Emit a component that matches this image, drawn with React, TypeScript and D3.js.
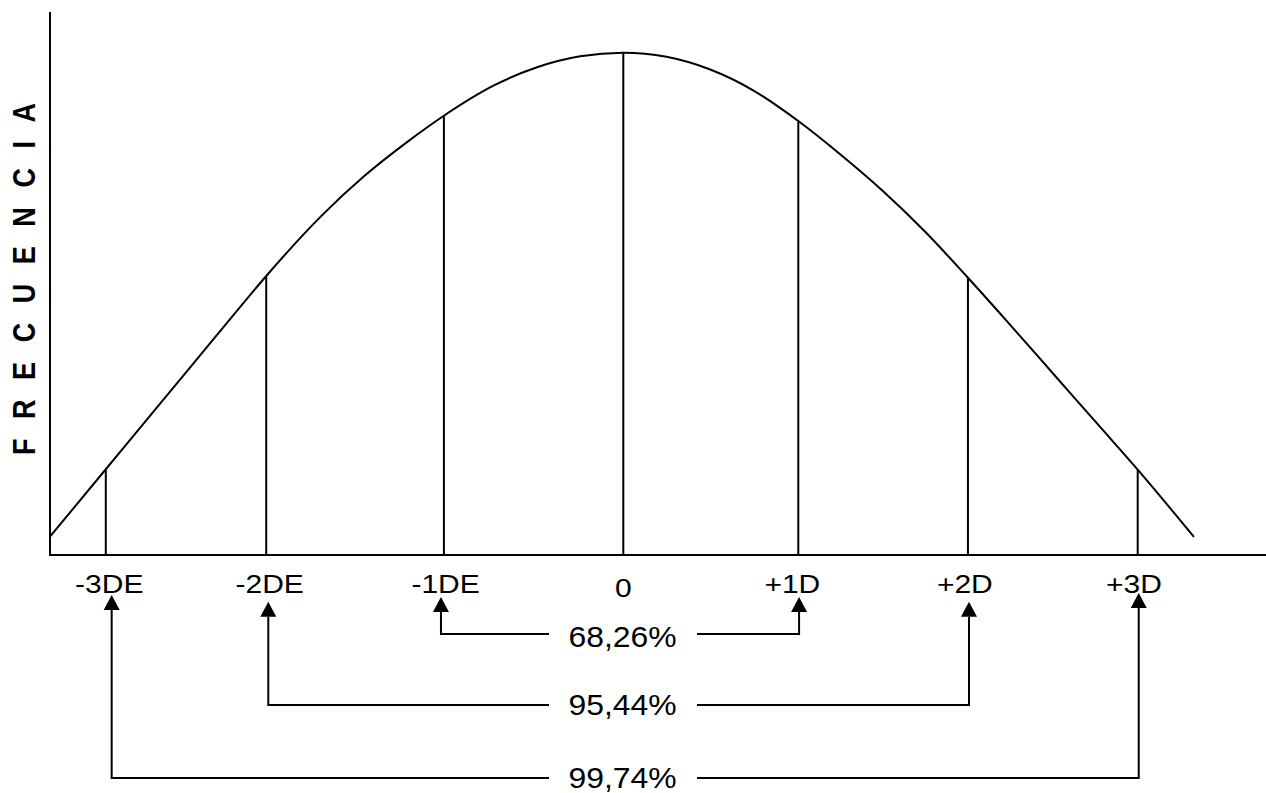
import React from "react";
import * as d3 from "d3";

// Curve: x in standard deviations, y as % of peak frequency
const CURVE_X = [
  -3.32, -3.0, -2.75, -2.5, -2.3, -2.07, -1.75, -1.5, -1.25, -1.04, -0.75, -0.5, -0.25, 0,
  0.25, 0.5, 0.75, 1.0145, 1.25, 1.5, 1.75, 1.998, 2.2145, 2.5, 2.75, 2.982, 3.308,
];
const CURVE_Y = [
  3.79, 17.07, 27.45, 37.82, 46.12, 55.55, 67.52, 75.49, 82.3, 87.45, 93.48, 97.1, 99.28, 100,
  99.18, 96.7, 92.57, 86.4, 79.99, 72.62, 64.35, 55.2, 46.92, 35.79, 26.04, 17.0, 3.6,
];

// Vertical markers (SD positions) and their labels
const MARK_X = [-3.0, -2.07, -1.04, 0, 1.0145, 1.998, 2.982];
const TICK_LABELS = ["-3DE", "-2DE", "-1DE", "0", "+1D", "+2D", "+3D"];
const LABEL_X = [-2.98, -2.05, -1.03, 0, 0.98, 1.98, 2.96];

// Range brackets
const RANGE_LABELS = ["68,26%", "95,44%", "99,74%"];
const RANGE_LEFT = [-1.057, -2.058, -2.966];
const RANGE_RIGHT = [1.019, 2.004, 2.988];

const Y_TITLE = "F R E C U E N C I A";

const W = 1266;
const H = 793;

export default function App() {
  const x = d3.scaleLinear().domain([0, 1]).range([623.3, 795.8]);
  const y = d3.scaleLinear().domain([0, 100]).range([555, 52.7]);

  const pts: [number, number][] = CURVE_X.map((v, i) => [v, CURVE_Y[i]]);
  const line = d3
    .line<[number, number]>()
    .x((d) => x(d[0]))
    .y((d) => y(d[1]))
    .curve(d3.curveMonotoneX);
  const curveFn = d3.scaleLinear().domain(CURVE_X).range(CURVE_Y);
  const pathD = line(pts) || "";

  const bracketY = [634, 705, 778];
  const tipY = [
    [597, 597],
    [601.7, 601.7],
    [595, 593],
  ];
  const headH = 15;
  const headW = 8;
  const gapL = 549;
  const gapR = 697;
  const pctBaseline = [647, 715, 788];

  const font = "Liberation Sans, Arial, Helvetica, sans-serif";

  return (
    <svg
      width={W}
      height={H}
      style={{ position: "absolute", left: 0, top: 0, background: "#fff" }}
    >
      <rect width={W} height={H} fill="#fff" />
      {/* axes */}
      <line x1={50} y1={12} x2={50} y2={555} stroke="#000" strokeWidth={2} />
      <line x1={49} y1={555} x2={W} y2={555} stroke="#000" strokeWidth={2} />

      {/* vertical markers */}
      {MARK_X.map((m, i) => (
        <line
          key={"m" + i}
          x1={x(m)}
          x2={x(m)}
          y1={555}
          y2={y(curveFn(m)) + 0.5}
          stroke="#000"
          strokeWidth={2}
        />
      ))}

      {/* curve */}
      <path d={pathD} fill="none" stroke="#000" strokeWidth={2} />

      {/* tick labels */}
      {TICK_LABELS.map((t, i) => (
        <text
          key={"t" + i}
          transform={`translate(${x(LABEL_X[i])},${t === "0" ? 597 : 593}) scale(1.2,1)`}
          textAnchor="middle"
          fontFamily={font}
          fontSize={25}
          fill="#000"
        >
          {t}
        </text>
      ))}

      {/* range brackets */}
      {RANGE_LABELS.map((lab, i) => {
        const xl = x(RANGE_LEFT[i]);
        const xr = x(RANGE_RIGHT[i]);
        const by = bracketY[i];
        const [tl, tr] = tipY[i];
        return (
          <g key={"r" + i}>
            <polyline
              points={`${gapL},${by} ${xl},${by} ${xl},${tl + headH}`}
              fill="none"
              stroke="#000"
              strokeWidth={2}
            />
            <polyline
              points={`${gapR},${by} ${xr},${by} ${xr},${tr + headH}`}
              fill="none"
              stroke="#000"
              strokeWidth={2}
            />
            <polygon
              points={`${xl},${tl} ${xl - headW},${tl + headH} ${xl + headW},${tl + headH}`}
              fill="#000"
            />
            <polygon
              points={`${xr},${tr} ${xr - headW},${tr + headH} ${xr + headW},${tr + headH}`}
              fill="#000"
            />
            <text
              transform={`translate(622.5,${pctBaseline[i]}) scale(1.1,1)`}
              textAnchor="middle"
              fontFamily={font}
              fontSize={29}
              fill="#000"
            >
              {lab}
            </text>
          </g>
        );
      })}

      {/* y title */}
      <g transform="translate(35,279) scale(1.15,1)">
        <text
          transform="rotate(-90)"
          textAnchor="middle"
          fontFamily={font}
          fontWeight="bold"
          fontSize={27}
          textLength={352}
          lengthAdjust="spacing"
          fill="#000"
        >
          {Y_TITLE}
        </text>
      </g>
    </svg>
  );
}
